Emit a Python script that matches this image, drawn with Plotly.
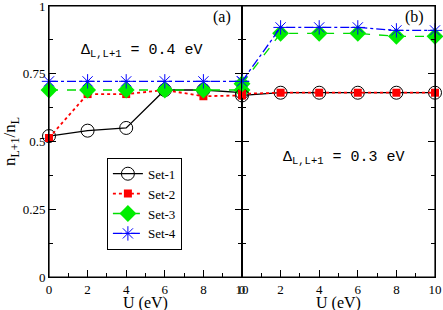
import plotly.graph_objects as go
from plotly.subplots import make_subplots

U = [0, 2, 4, 6, 8, 10]

# Panel (a): Delta = 0.4 eV
a_set1 = [0.52, 0.54, 0.55, 0.69, 0.69, 0.68]
a_set2 = [0.513, 0.675, 0.675, 0.69, 0.667, 0.67]
a_set3 = [0.69, 0.69, 0.69, 0.69, 0.69, 0.69]
a_set4 = [0.722, 0.722, 0.722, 0.722, 0.722, 0.722]

# Panel (b): Delta = 0.3 eV
b_set1 = [0.67, 0.68, 0.68, 0.68, 0.68, 0.68]
b_set2 = [0.676, 0.68, 0.68, 0.68, 0.68, 0.68]
b_set3 = [0.713, 0.899, 0.899, 0.899, 0.888, 0.888]
b_set4 = [0.722, 0.921, 0.921, 0.921, 0.91, 0.91]

names = ["Set-1", "Set-2", "Set-3", "Set-4"]
y_ticks = [0, 0.25, 0.5, 0.75, 1]
y_ticktext = ["0", "0.25", "0.5", "0.75", "1"]
x_ticks = [0, 2, 4, 6, 8, 10]

styles = [
    dict(line=dict(color="black", width=1.3, dash="solid"),
         marker=dict(symbol="circle-open", size=13, color="black", line=dict(width=1))),
    dict(line=dict(color="red", width=1.8, dash="dot"),
         marker=dict(symbol="square", size=8, color="red")),
    dict(line=dict(color="#00dd00", width=1.3, dash="dash"),
         marker=dict(symbol="diamond", size=13, color="#00ee00")),
    dict(line=dict(color="blue", width=1.3, dash="dashdot"),
         marker=dict(symbol="asterisk-open", size=12, color="blue", line=dict(width=1, color="blue"))),
]

fig = make_subplots(rows=1, cols=2, shared_yaxes=False, horizontal_spacing=0)

for i, ys in enumerate([a_set1, a_set2, a_set3, a_set4]):
    fig.add_trace(go.Scatter(x=U, y=ys, mode="lines+markers", name=names[i],
                             cliponaxis=False, showlegend=True, **styles[i]), row=1, col=1)
for i, ys in enumerate([b_set1, b_set2, b_set3, b_set4]):
    fig.add_trace(go.Scatter(x=U, y=ys, mode="lines+markers", name=names[i],
                             cliponaxis=False, showlegend=False, **styles[i]), row=1, col=2)

serif = "Times New Roman, Liberation Serif, serif"
mono = "Courier New, Liberation Mono, monospace"

xcommon = dict(range=[0, 10], tickvals=x_ticks, ticks="inside", ticklen=7, tickwidth=1,
               tickcolor="black", showline=True, linecolor="black", linewidth=1,
               showgrid=False, zeroline=False, ticklabeloverflow="allow",
               minor=dict(ticks="inside", ticklen=4, dtick=1, tickcolor="black", showgrid=False),
               tickfont=dict(family=serif, size=13, color="black"))
fig.update_xaxes(**xcommon)
fig.update_xaxes(domain=[0, 0.5], mirror=True, row=1, col=1)
fig.update_xaxes(domain=[0.5, 1], mirror=True, row=1, col=2)

ycommon = dict(range=[0, 1], tickvals=y_ticks, ticktext=y_ticktext, ticks="inside",
               ticklen=7, tickwidth=1, tickcolor="black", showline=True, linecolor="black",
               linewidth=1, showgrid=False, zeroline=False, mirror="ticks",
               ticklabeloverflow="allow",
               minor=dict(ticks="inside", ticklen=4, dtick=0.125, tickcolor="black", showgrid=False))
fig.update_yaxes(**ycommon)
fig.update_yaxes(tickfont=dict(family=serif, size=13, color="black"),
                 title=dict(text="n<sub>L+1</sub>/n<sub>L</sub>",
                            font=dict(family=serif, size=17, color="black"), standoff=4),
                 row=1, col=1)
fig.update_yaxes(showticklabels=False, row=1, col=2)

# frame around the whole plotting area
fig.add_shape(type="rect", xref="paper", yref="paper", x0=0, x1=1, y0=0, y1=1,
              line=dict(color="black", width=1.2), layer="above")

# x titles
for xr in ["x domain", "x2 domain"]:
    fig.add_annotation(x=0.5, y=0, xref=xr, yref="paper", yshift=-26, text="U (eV)",
                       showarrow=False, yanchor="middle",
                       font=dict(family=serif, size=16, color="black"))

fig.add_annotation(x=4.8, y=0.835, xref="x", yref="y",
                   text="Δ<sub>L,L+1</sub> = 0.4 eV", showarrow=False,
                   font=dict(family=mono, size=15, color="black"))
fig.add_annotation(x=5.3, y=0.44, xref="x2", yref="y2",
                   text="Δ<sub>L,L+1</sub> = 0.3 eV", showarrow=False,
                   font=dict(family=mono, size=15, color="black"))
fig.add_annotation(x=8.96, y=0.96, xref="x", yref="y", text="(a)", showarrow=False,
                   font=dict(family=serif, size=16, color="black"))
fig.add_annotation(x=8.96, y=0.96, xref="x2", yref="y2", text="(b)", showarrow=False,
                   font=dict(family=serif, size=16, color="black"))

fig.update_layout(
    width=443, height=310,
    margin=dict(l=49, r=8, t=6, b=33, autoexpand=False),
    paper_bgcolor="white", plot_bgcolor="white",
    font=dict(family=serif, color="black"),
    legend=dict(x=0.15, y=0.44, xanchor="left", yanchor="top",
                bgcolor="white", bordercolor="black", borderwidth=1,
                font=dict(family=serif, size=13, color="black"),
                tracegroupgap=0, itemwidth=30),
    showlegend=True,
)

fig.write_html("out.html", config={"displayModeBar": False},
               post_script="document.body.style.margin='0';document.body.style.overflow='hidden';")
